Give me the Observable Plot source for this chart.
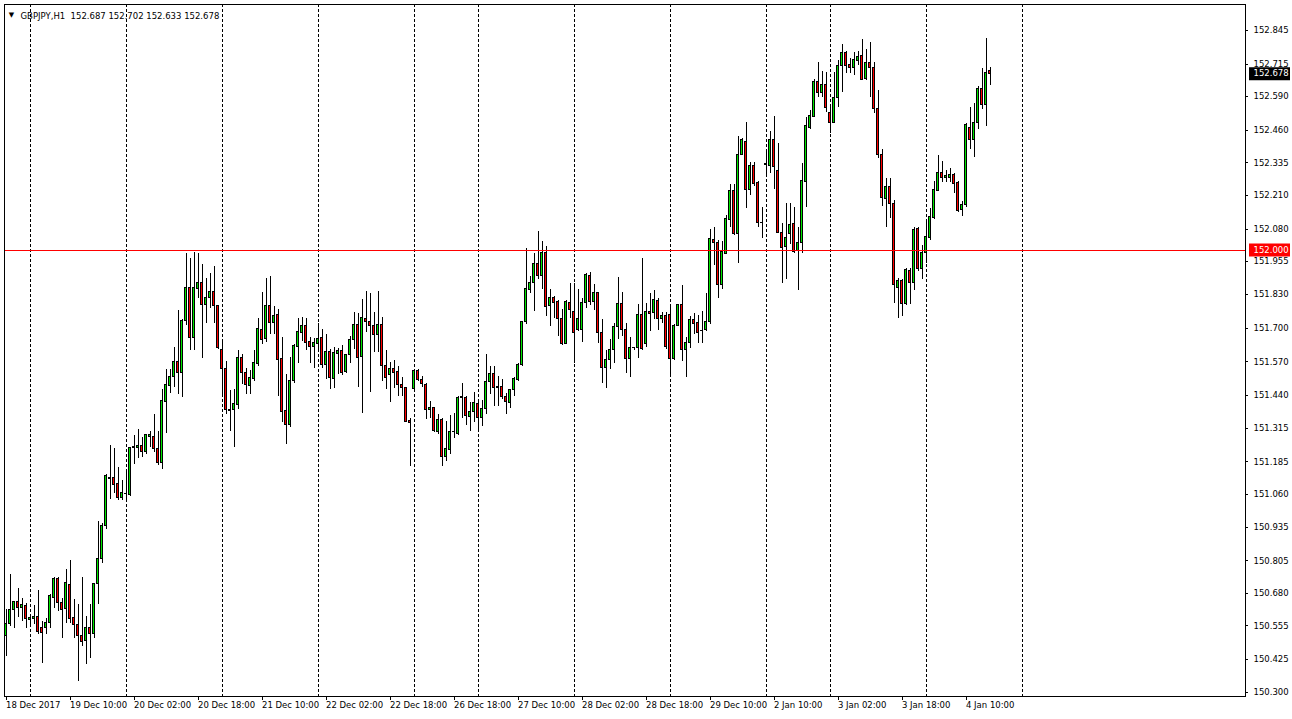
<!DOCTYPE html>
<html>
<head>
<meta charset="utf-8">
<script src="https://cdn.jsdelivr.net/npm/d3@7"></script>
<script src="https://cdn.jsdelivr.net/npm/@observablehq/plot@0.6"></script>
<style>
  html, body { margin: 0; padding: 0; background: #ffffff; }
  #chart { width: 1292px; height: 719px; }
  svg { display: block; }
</style>
</head>
<body>
<div id="chart"></div>
<script>
// ---- Data (GBPJPY, H1) ----
const symbol = "GBPJPY,H1";
const opens = [
150.515,150.562,150.615,150.646,150.623,150.631,150.577,150.581,150.588,150.546,
150.546,150.565,150.662,150.735,150.642,150.619,150.712,150.585,150.558,150.515,
150.496,150.546,150.523,150.715,150.812,150.938,151.119,151.123,151.100,151.046,
151.062,151.058,151.238,151.238,151.246,151.223,151.281,151.281,151.235,151.181,
151.415,151.477,151.512,151.569,151.527,151.727,151.854,151.662,151.850,151.873,
151.788,151.815,151.838,151.785,151.615,151.542,151.385,151.385,151.404,151.585,
151.527,151.477,151.504,151.562,151.692,151.658,151.785,151.719,151.750,151.581,
151.381,151.327,151.496,151.627,151.681,151.708,151.646,151.627,151.638,151.662,
151.558,151.608,151.504,151.600,151.612,151.531,151.596,151.654,151.712,151.588,
151.735,151.723,151.708,151.673,151.712,151.554,151.519,151.542,151.531,151.481,
151.469,151.342,151.465,151.535,151.500,151.481,151.385,151.392,151.300,151.346,
151.204,151.231,151.300,151.292,151.431,151.431,151.358,151.377,151.408,151.354,
151.388,151.492,151.523,151.473,151.473,151.435,151.412,151.462,151.500,151.558,
151.723,151.846,151.873,151.946,151.900,151.988,151.785,151.815,151.800,151.735,
151.638,151.796,151.762,151.692,151.692,151.796,151.900,151.800,151.835,151.681,
151.546,151.577,151.615,151.704,151.792,151.692,151.581,151.623,151.623,151.750,
151.638,151.762,151.758,151.804,151.735,151.746,151.750,151.581,151.708,151.788,
151.615,151.642,151.731,151.719,151.688,151.692,151.723,152.038,152.027,151.865,
151.985,152.115,152.227,152.062,152.365,152.415,152.231,152.323,152.258,152.104,
152.327,152.323,152.423,152.304,152.065,152.012,152.062,152.100,151.996,152.027,
152.262,152.469,152.512,152.646,152.604,152.635,152.527,152.488,152.585,152.708,
152.758,152.712,152.700,152.727,152.746,152.658,152.719,152.700,152.542,152.365,
152.196,152.242,152.177,151.854,151.881,151.792,151.919,151.873,152.081,151.927,
151.988,152.046,152.123,152.227,152.296,152.277,152.277,152.288,152.258,152.154,
152.173,152.469,152.423,152.488,152.619,152.558,152.687];
const highs = [
150.619,150.754,150.650,150.700,150.662,150.642,150.588,150.635,150.689,150.573,
150.585,150.677,150.739,150.739,150.662,150.773,150.808,150.658,150.638,150.742,
150.592,150.638,150.719,150.958,150.950,151.138,151.250,151.238,151.162,151.115,
151.150,151.242,151.285,151.308,151.281,151.292,151.304,151.369,151.304,151.462,
151.542,151.542,151.627,151.769,151.731,151.985,151.969,151.992,151.988,151.946,
151.892,151.908,151.935,151.788,151.646,151.573,151.458,151.465,151.615,151.600,
151.546,151.535,151.615,151.735,151.838,151.892,151.900,151.781,151.773,151.665,
151.523,151.588,151.638,151.738,151.742,151.738,151.662,151.658,151.719,151.696,
151.677,151.619,151.627,151.623,151.631,151.600,151.669,151.758,151.754,151.808,
151.842,151.831,151.758,151.842,151.742,151.615,151.569,151.577,151.554,151.508,
151.473,151.354,151.538,151.542,151.515,151.485,151.419,151.396,151.369,151.354,
151.342,151.362,151.373,151.435,151.485,151.435,151.412,151.454,151.427,151.423,
151.600,151.554,151.554,151.515,151.504,151.450,151.465,151.508,151.565,151.727,
152.004,151.900,151.988,152.073,152.031,152.015,151.850,151.823,151.804,151.773,
151.804,151.873,151.873,151.850,151.815,151.908,151.912,151.869,151.838,151.731,
151.612,151.654,151.719,151.896,151.835,151.719,151.665,151.627,151.792,151.969,
151.796,151.831,151.846,151.812,151.758,151.758,151.792,151.715,151.792,151.862,
151.662,151.746,151.754,151.750,151.765,151.831,152.077,152.088,152.035,152.031,
152.131,152.250,152.250,152.438,152.427,152.492,152.335,152.335,152.265,152.162,
152.388,152.454,152.512,152.408,152.100,152.177,152.177,152.162,152.085,152.331,
152.508,152.535,152.654,152.719,152.685,152.681,152.550,152.681,152.727,152.792,
152.765,152.735,152.758,152.762,152.808,152.769,152.796,152.719,152.612,152.388,
152.273,152.273,152.192,151.892,151.885,151.927,151.927,152.085,152.085,152.019,
152.115,152.158,152.265,152.365,152.342,152.304,152.312,152.296,152.265,152.188,
152.485,152.546,152.562,152.627,152.696,152.812,152.702];
const lows = [
150.438,150.554,150.546,150.588,150.573,150.546,150.562,150.562,150.523,150.412,
150.523,150.546,150.623,150.612,150.508,150.565,150.565,150.508,150.342,150.477,
150.408,150.431,150.508,150.638,150.796,150.927,151.042,151.062,151.035,151.035,
151.035,151.054,151.177,151.200,151.204,151.215,151.242,151.223,151.173,151.158,
151.296,151.450,151.473,151.446,151.431,151.708,151.612,151.615,151.812,151.581,
151.719,151.777,151.719,151.619,151.446,151.369,151.304,151.242,151.388,151.481,
151.446,151.446,151.496,151.554,151.638,151.646,151.677,151.677,151.438,151.335,
151.254,151.319,151.488,151.562,151.650,151.612,151.565,151.546,151.619,151.546,
151.504,151.465,151.469,151.523,151.519,151.527,151.562,151.619,151.473,151.373,
151.681,151.454,151.604,151.604,151.496,151.465,151.415,151.469,151.438,151.438,
151.335,151.169,151.458,151.496,151.473,151.350,151.354,151.300,151.292,151.169,
151.188,151.215,151.277,151.285,151.354,151.327,151.304,151.335,151.304,151.323,
151.369,151.446,151.400,151.400,151.427,151.369,151.392,151.438,151.496,151.554,
151.715,151.831,151.765,151.888,151.850,151.746,151.704,151.738,151.669,151.631,
151.635,151.738,151.565,151.688,151.646,151.777,151.788,151.769,151.642,151.488,
151.469,151.542,151.562,151.654,151.669,151.527,151.508,151.612,151.581,151.612,
151.627,151.688,151.731,151.692,151.719,151.619,151.523,151.577,151.704,151.573,
151.508,151.623,151.677,151.642,151.642,151.688,151.715,151.942,151.815,151.850,
151.981,152.088,152.054,151.950,152.362,152.158,152.208,152.246,152.085,152.046,
152.285,152.296,152.231,152.062,151.873,151.888,152.023,151.988,151.846,151.988,
152.162,152.465,152.508,152.585,152.585,152.527,152.446,152.485,152.546,152.604,
152.677,152.677,152.669,152.708,152.650,152.650,152.585,152.523,152.350,152.169,
152.088,152.123,151.796,151.735,151.746,151.788,151.792,151.846,151.919,151.888,
151.950,152.038,152.119,152.223,152.258,152.258,152.258,152.219,152.146,152.127,
152.162,152.388,152.354,152.465,152.542,152.473,152.633];
const closes = [
150.562,150.615,150.646,150.623,150.635,150.581,150.585,150.588,150.531,150.527,
150.565,150.669,150.735,150.642,150.615,150.719,150.581,150.558,150.515,150.492,
150.546,150.523,150.715,150.812,150.938,151.131,151.123,151.096,151.046,151.065,
151.063,151.238,151.242,151.246,151.223,151.288,151.288,151.235,151.181,151.419,
151.481,151.512,151.569,151.527,151.727,151.854,151.662,151.854,151.873,151.788,
151.815,151.838,151.785,151.623,151.542,151.385,151.381,151.408,151.585,151.527,
151.481,151.508,151.565,151.696,151.654,151.785,151.719,151.746,151.577,151.377,
151.327,151.496,151.631,151.685,151.708,151.642,151.627,151.642,151.658,151.558,
151.608,151.508,151.604,151.612,151.527,151.596,151.654,151.712,151.585,151.738,
151.723,151.708,151.673,151.712,151.554,151.508,151.542,151.527,151.481,151.469,
151.339,151.335,151.535,151.500,151.485,151.385,151.392,151.304,151.346,151.204,
151.235,151.300,151.302,151.431,151.435,151.362,151.377,151.412,151.354,151.388,
151.492,151.523,151.469,151.471,151.435,151.415,151.462,151.504,151.558,151.723,
151.850,151.873,151.946,151.900,151.988,151.781,151.815,151.796,151.735,151.638,
151.800,151.769,151.681,151.735,151.796,151.904,151.800,151.835,151.681,151.546,
151.577,151.615,151.704,151.792,151.692,151.581,151.623,151.625,151.750,151.619,
151.762,151.754,151.808,151.735,151.746,151.627,151.581,151.708,151.788,151.615,
151.642,151.731,151.715,151.681,151.690,151.723,152.042,152.027,151.865,151.992,
152.119,152.227,152.062,152.365,152.423,152.231,152.323,152.254,152.104,152.102,
152.329,152.423,152.319,152.065,152.008,152.046,152.096,151.992,152.027,152.265,
152.477,152.515,152.646,152.604,152.635,152.546,152.488,152.585,152.708,152.758,
152.708,152.700,152.731,152.742,152.654,152.719,152.700,152.542,152.365,152.200,
152.242,152.177,151.865,151.881,151.792,151.923,151.873,152.077,151.927,151.988,
152.050,152.127,152.231,152.296,152.277,152.285,152.288,152.254,152.150,152.173,
152.481,152.423,152.488,152.619,152.558,152.681,152.678];

// bar indices of the day separators
const separatorBars = [6, 30, 54, 78, 102, 118, 142, 166, 190, 206, 230, 254];
// time axis labels (every 16 bars)
const timeLabels = ["18 Dec 2017","19 Dec 10:00","20 Dec 02:00","20 Dec 18:00","21 Dec 10:00",
  "22 Dec 02:00","22 Dec 18:00","26 Dec 18:00","27 Dec 10:00","28 Dec 02:00","28 Dec 18:00",
  "29 Dec 10:00","2 Jan 10:00","3 Jan 02:00","3 Jan 18:00","4 Jan 10:00"];
const timeLabelBars = [0,16,32,48,64,80,96,112,128,144,160,176,192,208,224,240];
// price axis labels
const priceLabels = ["152.845","152.715","152.590","152.460","152.335","152.210","152.080",
  "151.955","151.830","151.700","151.570","151.440","151.315","151.185","151.060","150.935",
  "150.805","150.680","150.555","150.425","150.300"];
const levelLine = 152.000;

// ---- build table ----
const bars = opens.map((o, i) => ({i, open: o, high: highs[i], low: lows[i], close: closes[i]}));
const last = bars[bars.length - 1];

const W = 1292, H = 719;
const mL = 4, mR = 47, mT = 4, mB = 23;
const xDomain = [-0.375, 309.875];           // 4 px per bar
const yDomain = [150.28335, 152.94387];
const xMax = xDomain[1];
const pxY = (yDomain[1] - yDomain[0]) / (H - mT - mB);

const bull = "#00e600", bear = "#ff0000";
const font = "DejaVu Sans, Verdana, sans-serif";

const chart = Plot.plot({
  width: W, height: H,
  marginLeft: mL, marginRight: mR, marginTop: mT, marginBottom: mB,
  style: {background: "#ffffff", fontFamily: font, fontSize: "8.5px", color: "black"},
  x: {domain: xDomain, axis: null},
  y: {domain: yDomain, axis: null},
  marks: [
    // day separators
    Plot.ruleX(separatorBars, {x: d => d, stroke: "black", strokeDasharray: "3,2", strokeWidth: 1, shapeRendering: "crispEdges"}),
    // wicks
    Plot.ruleX(bars, {x: "i", y1: "low", y2: "high", stroke: "black", strokeWidth: 1, shapeRendering: "crispEdges"}),
    // bodies
    Plot.rect(bars, {
      x1: d => d.i - 0.25, x2: d => d.i + 0.25,
      y1: "open", y2: "close",
      fill: d => d.close > d.open ? bull : (d.close < d.open ? bear : "black"),
      stroke: "black", strokeWidth: 1, shapeRendering: "crispEdges"
    }),
    // horizontal level
    Plot.ruleY([levelLine], {stroke: "#ff0000", strokeWidth: 1, shapeRendering: "crispEdges"}),
    // frame
    Plot.frame({stroke: "black", shapeRendering: "crispEdges"}),
    // price axis ticks + labels
    Plot.ruleY(priceLabels, {y: d => +d, x1: () => xMax, x2: () => xMax + 0.75, stroke: "black", shapeRendering: "crispEdges"}),
    Plot.text(priceLabels, {y: d => +d, text: d => d, frameAnchor: "right", dx: 8, textAnchor: "start", fill: "black", fontSize: 8.5}),
    // level label box
    Plot.ruleY([levelLine], {x1: () => xMax + 1, x2: () => xMax + 11.25, stroke: "#ff0000", strokeWidth: 13}),
    Plot.text([levelLine], {y: d => d, text: d => d.toFixed(3), frameAnchor: "right", dx: 8, textAnchor: "start", fill: "white", fontSize: 8.5}),
    // current price label box
    Plot.ruleY([last.close], {x1: () => xMax + 1, x2: () => xMax + 11.25, stroke: "black", strokeWidth: 13}),
    Plot.text([last.close], {y: d => d, text: d => d.toFixed(3), frameAnchor: "right", dx: 8, textAnchor: "start", fill: "white", fontSize: 8.5}),
    // time axis ticks + labels
    Plot.ruleX(timeLabelBars, {x: d => d, y1: () => yDomain[0], y2: () => yDomain[0] - 4 * pxY, stroke: "black", shapeRendering: "crispEdges"}),
    Plot.text(timeLabelBars, {x: d => d, text: (d, k) => timeLabels[k], frameAnchor: "bottom", dy: 11, dx: 0, textAnchor: "start", fill: "black", fontSize: 8.5}),
    // header
    Plot.text(["▼"], {frameAnchor: "top-left", dx: 7, dy: 8, fontSize: 7, fill: "black", textAnchor: "middle"}),
    Plot.text([`${symbol}  ${last.open.toFixed(3)} ${last.high.toFixed(3)} ${last.low.toFixed(3)} ${last.close.toFixed(3)}`],
      {frameAnchor: "top-left", dx: 16, dy: 8, textAnchor: "start", fill: "black", fontSize: 8.5})
  ]
});
document.getElementById("chart").appendChild(chart);
</script>
</body>
</html>
